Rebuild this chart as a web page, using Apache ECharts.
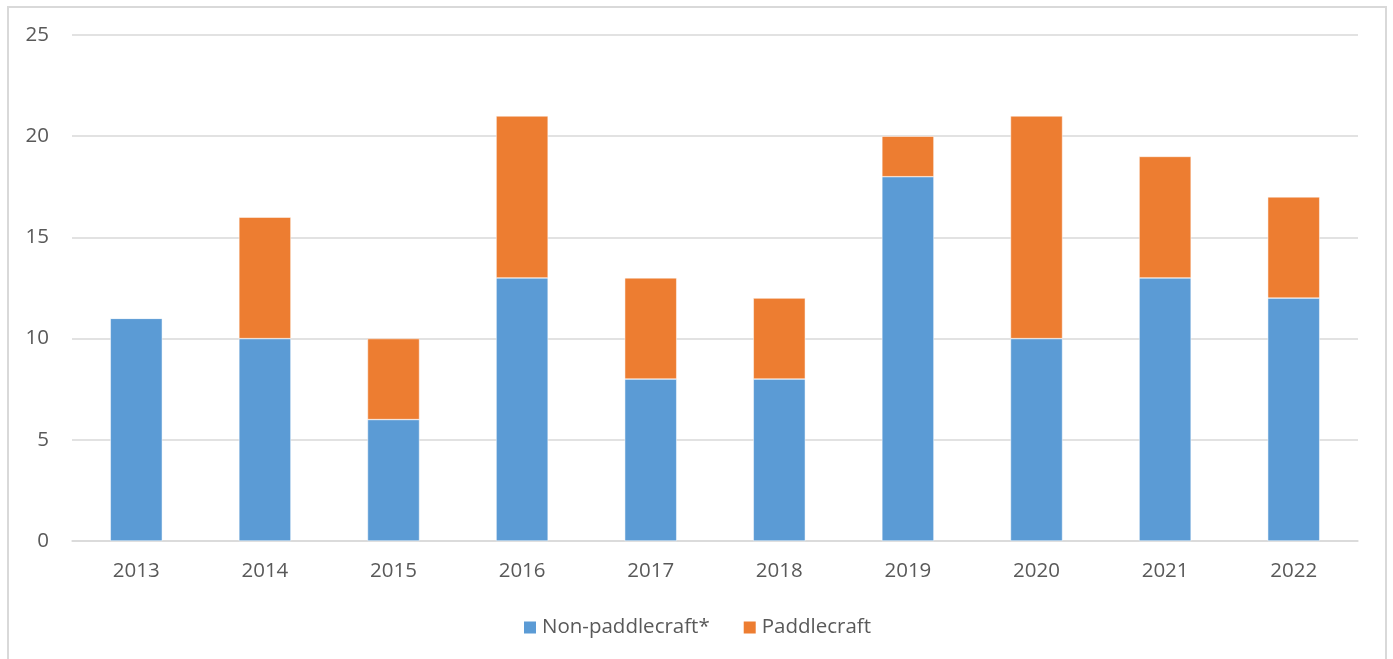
<!DOCTYPE html>
<html>
<head>
<meta charset="utf-8">
<script src="https://cdn.jsdelivr.net/npm/echarts@6/dist/echarts.min.js"></script>
<style>
html,body{margin:0;padding:0;background:#fff;}
#frame{position:absolute;left:7px;top:6px;width:1380px;height:700px;border:2px solid #d9d9d9;box-sizing:border-box;}
#chart{position:absolute;left:0;top:0;width:1393px;height:659px;}
</style>
</head>
<body>
<div id="frame"></div>
<div id="chart"></div>
<script>
const years = ["2013","2014","2015","2016","2017","2018","2019","2020","2021","2022"];
const nonPaddlecraft = [11,10,6,13,8,8,18,10,13,12];
const paddlecraft = [0,6,4,8,5,4,2,11,6,5];
const seriesNames = ["Non-paddlecraft*","Paddlecraft"];

const chart = echarts.init(document.getElementById('chart'));
const font = "'Open Sans', 'Liberation Sans', sans-serif";
chart.setOption({
  animation:false,
  color:["#5b9bd5","#ed7d31"],
  grid:{left:72,right:35,top:35,bottom:118},
  legend:{
    top:612,left:'center',
    itemWidth:14,itemHeight:14,itemGap:32,itemTextGap:6,
    icon:'rect',
    textStyle:{fontFamily:font,fontSize:20.5,color:'#595959'},
    data:seriesNames
  },
  xAxis:{
    type:'category',data:years,
    axisLine:{lineStyle:{color:'#d9d9d9',width:1.5}},
    axisTick:{show:false},
    axisLabel:{fontFamily:font,fontSize:20.5,color:'#595959',margin:20}
  },
  yAxis:{
    type:'value',min:0,max:25,interval:5,
    axisLine:{show:false},axisTick:{show:false},
    splitLine:{lineStyle:{color:'#d9d9d9',width:1.5}},
    axisLabel:{fontFamily:font,fontSize:20.5,color:'#595959',margin:23}
  },
  series:[
    {name:seriesNames[0],type:'bar',stack:'a',barWidth:52,data:nonPaddlecraft,
     itemStyle:{borderColor:'#ffffff',borderWidth:0.5}},
    {name:seriesNames[1],type:'bar',stack:'a',barWidth:52,data:paddlecraft,
     itemStyle:{borderColor:'#ffffff',borderWidth:0.5}}
  ]
});
</script>
</body>
</html>
